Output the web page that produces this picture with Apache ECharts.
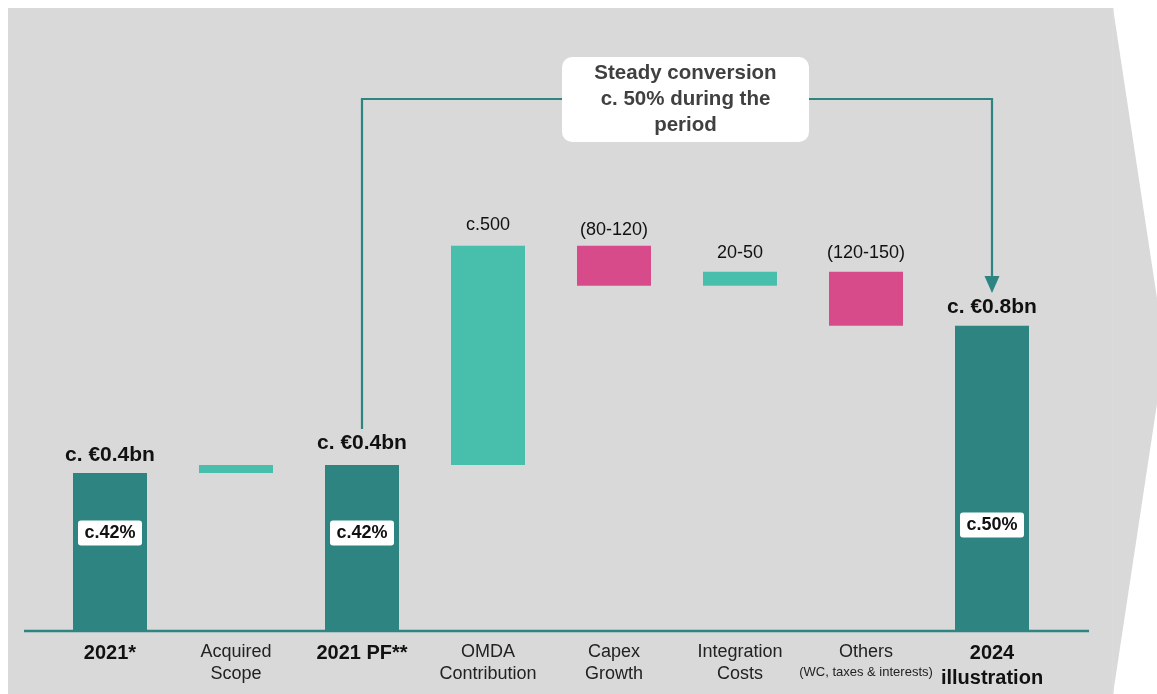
<!DOCTYPE html>
<html>
<head>
<meta charset="utf-8">
<script src="https://cdn.jsdelivr.net/npm/echarts@6/dist/echarts.min.js"></script>
<style>
html,body{margin:0;padding:0;background:#fff;}
#c{width:1157px;height:694px;}
</style>
</head>
<body>
<div id="c"></div>
<script>
// ---- data ----
const categories = ['2021*', 'Acquired\nScope', '2021 PF**', 'OMDA\nContribution', 'Capex\nGrowth', 'Integration\nCosts', 'Others\n(WC, taxes & interests)', '2024\nillustration'];
const kinds = ['total', 'up', 'total', 'up', 'down', 'up', 'down', 'total'];
const deltas = [395, 20, 415, 548, -100, 35, -135, 763];
const valueLabels = ['c. €0.4bn', '', 'c. €0.4bn', 'c.500', '(80-120)', '20-50', '(120-150)', 'c. €0.8bn'];
const marginLabels = ['c.42%', null, 'c.42%', null, null, null, null, 'c.50%'];
const marginLabelY = [245, null, 245, null, null, null, null, 265];
const annotationText = 'Steady conversion\nc. 50% during the\nperiod';

// ---- waterfall build ----
const colors = { total: '#2d8481', up: '#48bfac', down: '#d74b8b' };
const labelDist = [7, 0, 11, 12, 7, 10, 10, 8];
const base = [], vis = [];
let running = 0;
for (let i = 0; i < deltas.length; i++) {
  const d = deltas[i];
  if (kinds[i] === 'total') {
    running = d;
    base.push(0);
    vis.push({ value: d });
  } else if (d >= 0) {
    base.push(running);
    vis.push({ value: d });
    running += d;
  } else {
    running += d;
    base.push(running);
    vis.push({ value: -d });
  }
  const bold = kinds[i] === 'total';
  vis[i].itemStyle = { color: colors[kinds[i]] };
  vis[i].label = {
    show: valueLabels[i] !== '',
    formatter: valueLabels[i],
    distance: labelDist[i],
    fontSize: bold ? 21 : 18,
    fontWeight: bold ? 'bold' : 'normal',
  };
}
const marginData = [];
marginLabels.forEach((t, i) => {
  if (t) marginData.push({ value: [categories[i], marginLabelY[i]], label: { formatter: t } });
});

const FONT = '"Liberation Sans", Arial, sans-serif';
const chart = echarts.init(document.getElementById('c'), null, { renderer: 'canvas' });

const option = {
  backgroundColor: '#ffffff',
  animation: false,
  textStyle: { fontFamily: FONT },
  grid: { left: 47, right: 102, top: 231, bottom: 63 },
  xAxis: {
    type: 'category',
    data: categories,
    axisLine: { show: false },
    axisTick: { show: false },
    axisLabel: {
      margin: 10,
      interval: 0,
      formatter: function (v, idx) {
        const parts = v.split('\n');
        if (kinds[idx] === 'total') return parts.map(p => '{b|' + p + '}').join('\n');
        if (parts.length > 1 && parts[1].startsWith('(')) return '{n|' + parts[0] + '}\n{s|' + parts[1] + '}';
        return parts.map(p => '{n|' + p + '}').join('\n');
      },
      rich: {
        b: { fontFamily: FONT, fontSize: 20, fontWeight: 'bold', color: '#111', lineHeight: 25 },
        n: { fontFamily: FONT, fontSize: 18, color: '#222', lineHeight: 22 },
        s: { fontFamily: FONT, fontSize: 13, color: '#222', lineHeight: 19 }
      }
    }
  },
  yAxis: { type: 'value', min: 0, max: 1000, show: false, splitLine: { show: false } },
  series: [
    {
      type: 'bar', stack: 'wf', data: base, barWidth: 74,
      itemStyle: { color: 'rgba(0,0,0,0)' }, silent: true, z: 3
    },
    {
      type: 'bar', stack: 'wf', data: vis, barWidth: 74, z: 3,
      label: { show: true, position: 'top', color: '#111', fontFamily: FONT }
    },
    {
      type: 'scatter', data: marginData, symbolSize: 0, z: 5, silent: true,
      itemStyle: { opacity: 1 },
      label: {
        show: true, position: 'inside', fontFamily: FONT, fontSize: 18, fontWeight: 'bold',
        color: '#111111', backgroundColor: '#ffffff', borderRadius: 3, opacity: 1,
        padding: [3, 6, 2, 6], width: 52, height: 20, align: 'center', verticalAlign: 'middle', lineHeight: 20
      }
    }
  ]
};
chart.setOption(option);

// ---- decorations positioned from the chart's own scales ----
const xPF = chart.convertToPixel({ xAxisIndex: 0 }, categories[2]);
const x24 = chart.convertToPixel({ xAxisIndex: 0 }, categories[7]);
const y0 = chart.convertToPixel({ yAxisIndex: 0 }, 0);
const teal = '#2d8481';
chart.setOption({
  graphic: [
    { type: 'polygon', z: -10, silent: true,
      shape: { points: [[8, 8], [1113, 8], [1165, 351], [1113, 694], [8, 694]] },
      style: { fill: '#d9d9d9' } },
    { type: 'line', z: -9, silent: true,
      shape: { x1: 1113, y1: 8, x2: 1113, y2: 694 }, style: { stroke: '#dcdcdc', lineWidth: 1 } },
    { type: 'line', z: 1, silent: true,
      shape: { x1: 24, y1: y0, x2: 1089, y2: y0 }, style: { stroke: teal, lineWidth: 2.5 } },
    { type: 'polyline', z: 10, silent: true,
      shape: { points: [[xPF, 429], [xPF, 99], [x24, 99], [x24, 279]] },
      style: { stroke: teal, lineWidth: 2.2, fill: null } },
    { type: 'polygon', z: 10, silent: true,
      shape: { points: [[x24 - 7.5, 276], [x24 + 7.5, 276], [x24, 293]] },
      style: { fill: teal } },
    { type: 'rect', z: 11, silent: true,
      shape: { x: 562, y: 57, width: 247, height: 85, r: 10 }, style: { fill: '#ffffff' } },
    { type: 'text', z: 12, silent: true, x: 685.5, y: 99.5,
      style: { text: annotationText, fontFamily: FONT, fontSize: 20.5, fontWeight: 'bold', fill: '#404040',
               align: 'center', verticalAlign: 'middle', lineHeight: 26 } }
  ]
});
</script>
</body>
</html>
